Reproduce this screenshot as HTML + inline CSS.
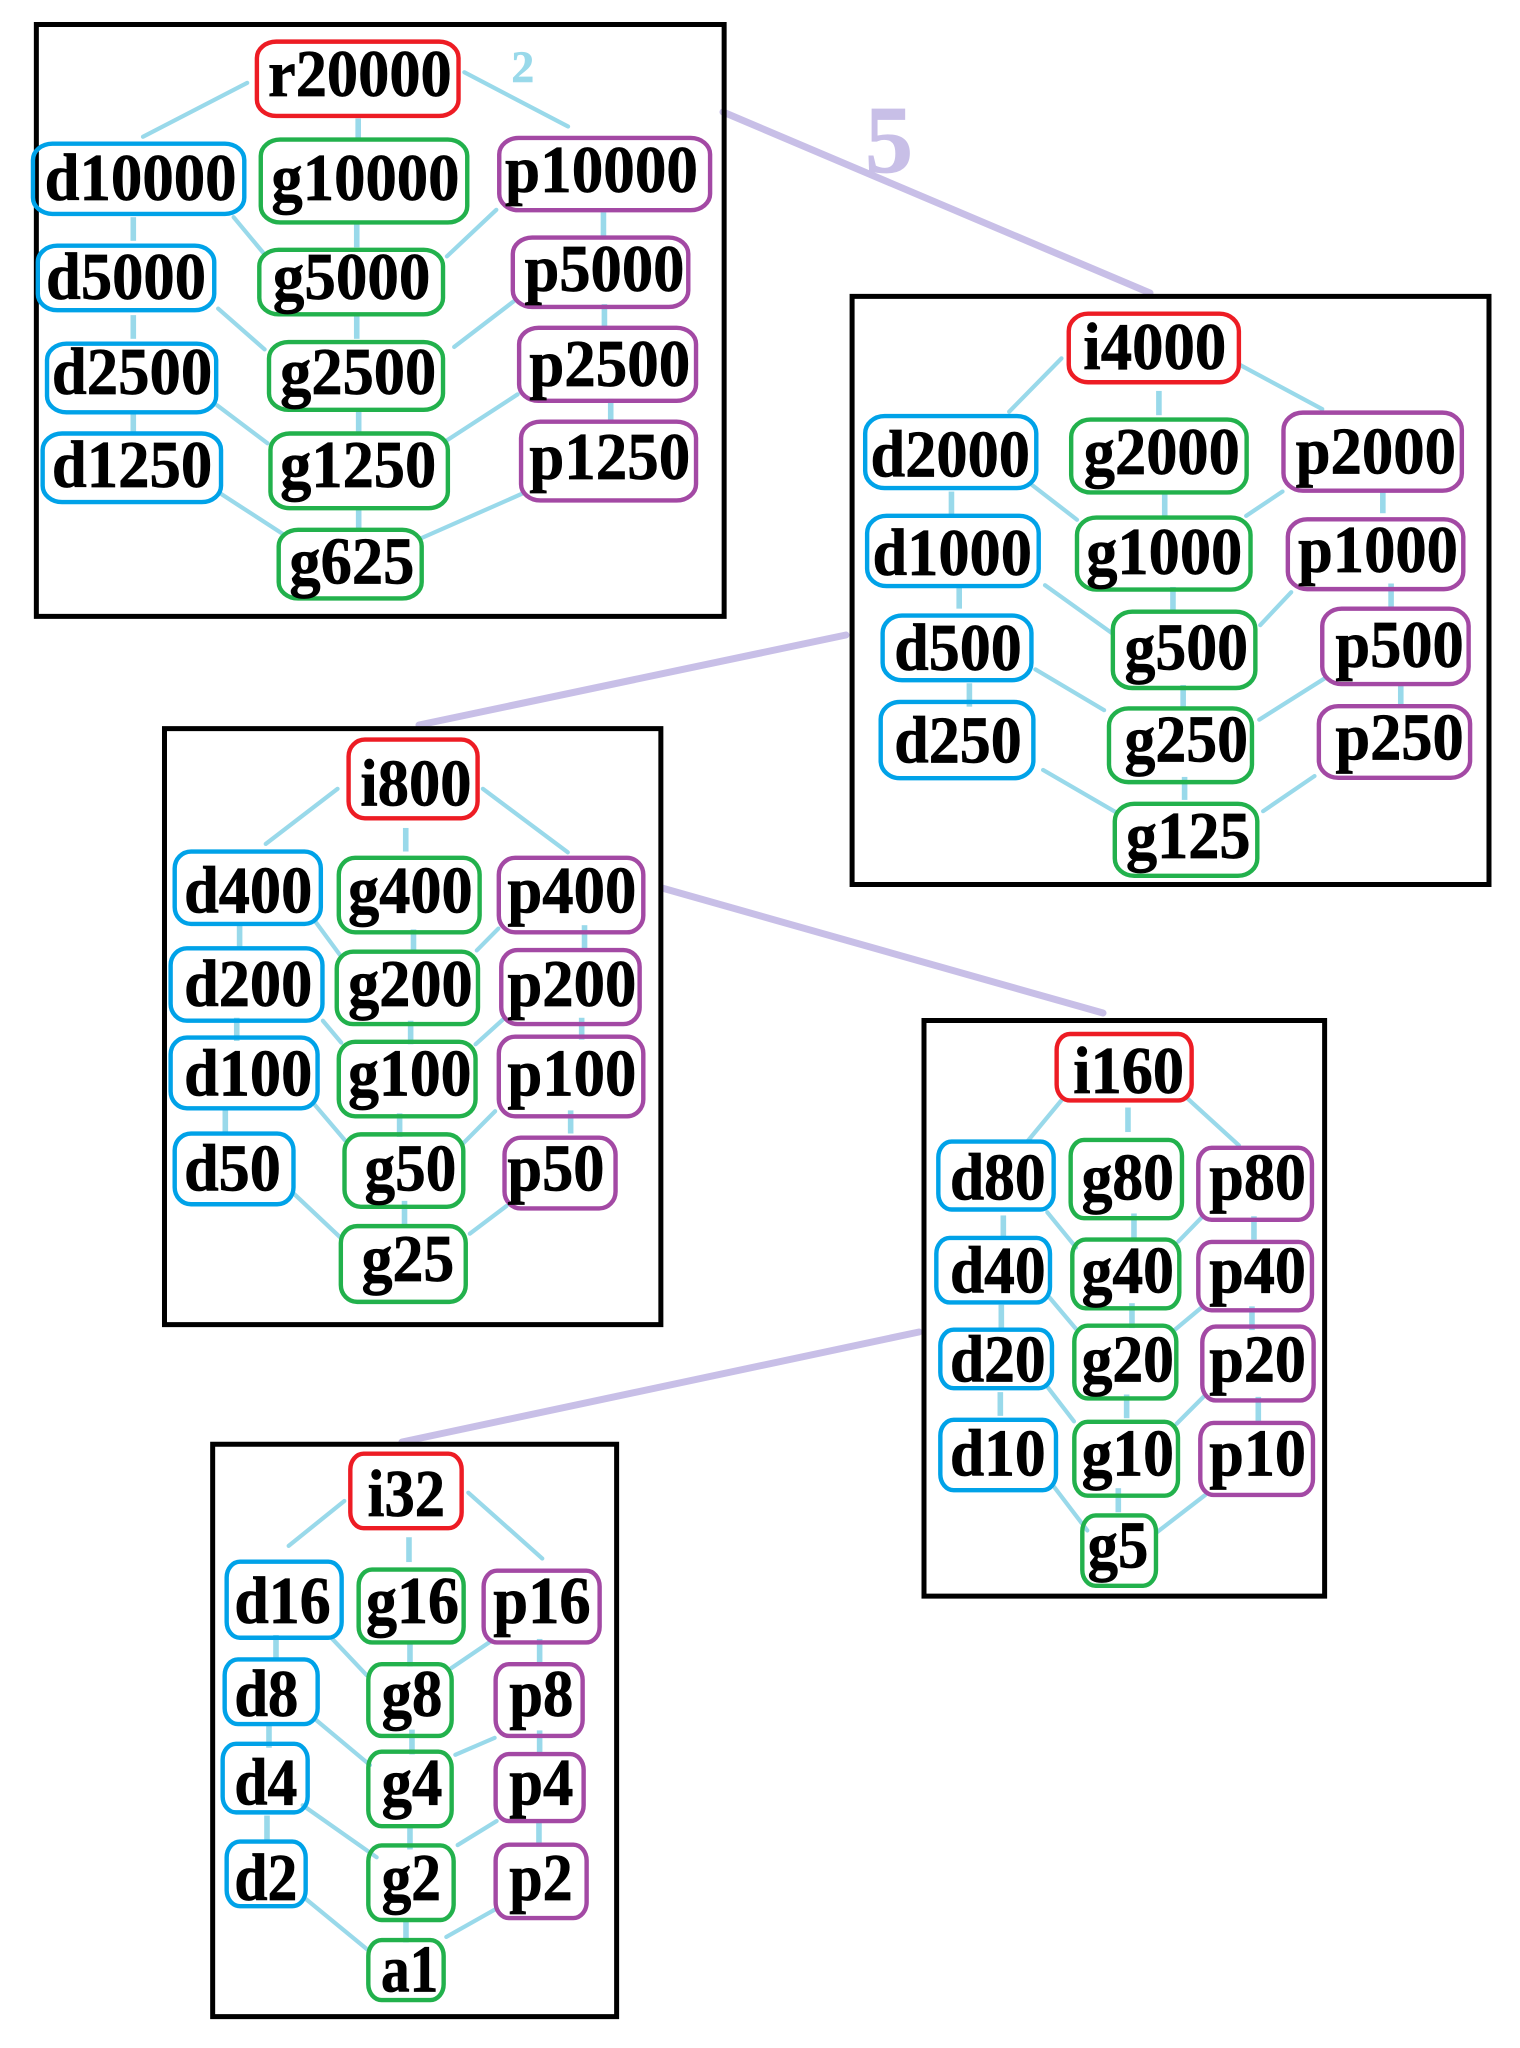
<!DOCTYPE html>
<html><head><meta charset="utf-8"><style>
html,body{margin:0;padding:0;background:#fff}
svg{display:block}
rect{fill:none;vector-effect:non-scaling-stroke}
line{vector-effect:non-scaling-stroke;stroke:#99d9ea;stroke-width:4.2;stroke-linecap:round}
line.v{stroke-width:5.6;stroke-linecap:butt}
.box{stroke:#000;stroke-width:5}
.r{stroke:#ed1c24;stroke-width:4.4}.b{stroke:#00a2e8;stroke-width:4.4}.g{stroke:#22b14c;stroke-width:4.4}.p{stroke:#a349a4;stroke-width:4.4}
text{font-family:"Liberation Serif",serif;font-weight:bold;fill:#000;stroke:#000;stroke-width:.7px;vector-effect:non-scaling-stroke}
line.m{stroke:#c8bfe7;stroke-width:7}
</style></head><body>
<svg width="1520" height="2048" viewBox="0 0 1520 2048" xmlns="http://www.w3.org/2000/svg">
<rect x="0" y="0" width="1520" height="2048" style="fill:#fff"/>
<line class="m" x1="723" y1="112" x2="1150" y2="293"/>
<line class="m" x1="846" y1="635" x2="419" y2="725"/>
<line class="m" x1="662" y1="888" x2="1103" y2="1013"/>
<line class="m" x1="919" y1="1332" x2="402" y2="1442"/>
<text x="865" y="172" font-size="96" textLength="48" lengthAdjust="spacingAndGlyphs" style="fill:#c8bfe7;stroke:#c8bfe7">5</text>

<!-- Panel 1 -->
<g transform="translate(0,0) scale(0.4847,0.4082)" font-size="163">
<rect class="box" x="75" y="60" width="1419" height="1450"/>
<text x="1055" y="200" font-size="108" textLength="47" lengthAdjust="spacingAndGlyphs" style="fill:#99d9ea;stroke:#99d9ea">2</text>
<line x1="510" y1="203" x2="295" y2="335"/><line x1="958" y1="177" x2="1172" y2="310"/><line class="v" x1="739" y1="290" x2="739" y2="343"/>
<line class="v" x1="275" y1="532" x2="275" y2="590"/><line x1="482" y1="532" x2="545" y2="622"/><line class="v" x1="736" y1="548" x2="736" y2="606"/><line x1="1024" y1="514" x2="922" y2="628"/><line class="v" x1="1245" y1="520" x2="1245" y2="578"/>
<line class="v" x1="275" y1="772" x2="275" y2="830"/><line x1="450" y1="756" x2="546" y2="856"/><line class="v" x1="736" y1="772" x2="736" y2="830"/><line x1="1060" y1="738" x2="937" y2="850"/><line class="v" x1="1247" y1="745" x2="1247" y2="803"/>
<line class="v" x1="275" y1="1005" x2="275" y2="1062"/><line x1="448" y1="993" x2="552" y2="1086"/><line class="v" x1="740" y1="1002" x2="740" y2="1058"/><line x1="1068" y1="966" x2="918" y2="1082"/><line class="v" x1="1260" y1="977" x2="1260" y2="1033"/>
<line x1="456" y1="1210" x2="586" y2="1310"/><line class="v" x1="740" y1="1242" x2="740" y2="1298"/><line x1="1080" y1="1208" x2="870" y2="1318"/>
<rect class="r" x="530" y="102" width="416" height="182" rx="40" ry="40"/><text x="553" y="235" textLength="379" lengthAdjust="spacingAndGlyphs">r20000</text>
<rect class="b" x="68" y="352" width="436" height="172" rx="40" ry="40"/><text x="92" y="490" textLength="396" lengthAdjust="spacingAndGlyphs">d10000</text>
<rect class="g" x="538" y="342" width="426" height="203" rx="40" ry="40"/><text x="560" y="490" textLength="388" lengthAdjust="spacingAndGlyphs">g10000</text>
<rect class="p" x="1030" y="338" width="435" height="177" rx="40" ry="40"/><text x="1042" y="470" textLength="398" lengthAdjust="spacingAndGlyphs">p10000</text>
<rect class="b" x="78" y="602" width="364" height="158" rx="40" ry="40"/><text x="95" y="733" textLength="330" lengthAdjust="spacingAndGlyphs">d5000</text>
<rect class="g" x="535" y="612" width="379" height="158" rx="40" ry="40"/><text x="563" y="733" textLength="325" lengthAdjust="spacingAndGlyphs">g5000</text>
<rect class="p" x="1058" y="582" width="362" height="170" rx="40" ry="40"/><text x="1082" y="713" textLength="330" lengthAdjust="spacingAndGlyphs">p5000</text>
<rect class="b" x="97" y="842" width="349" height="168" rx="40" ry="40"/><text x="107" y="965" textLength="331" lengthAdjust="spacingAndGlyphs">d2500</text>
<rect class="g" x="555" y="838" width="359" height="166" rx="40" ry="40"/><text x="578" y="965" textLength="322" lengthAdjust="spacingAndGlyphs">g2500</text>
<rect class="p" x="1071" y="803" width="365" height="179" rx="40" ry="40"/><text x="1092" y="946" textLength="332" lengthAdjust="spacingAndGlyphs">p2500</text>
<rect class="b" x="88" y="1062" width="368" height="168" rx="40" ry="40"/><text x="107" y="1193" textLength="331" lengthAdjust="spacingAndGlyphs">d1250</text>
<rect class="g" x="558" y="1062" width="366" height="183" rx="40" ry="40"/><text x="578" y="1193" textLength="322" lengthAdjust="spacingAndGlyphs">g1250</text>
<rect class="p" x="1075" y="1033" width="361" height="193" rx="40" ry="40"/><text x="1092" y="1174" textLength="332" lengthAdjust="spacingAndGlyphs">p1250</text>
<rect class="g" x="575" y="1298" width="295" height="168" rx="40" ry="40"/><text x="597" y="1430" textLength="258" lengthAdjust="spacingAndGlyphs">g625</text>
</g>

<!-- Panel 2 -->
<g transform="translate(760,240) scale(0.4847,0.4337)" font-size="154">
<rect class="box" x="190" y="130" width="1314" height="1356"/>
<line x1="622" y1="273" x2="514" y2="396"/><line x1="990" y1="288" x2="1160" y2="390"/><line class="v" x1="823" y1="348" x2="823" y2="404"/>
<line class="v" x1="395" y1="580" x2="395" y2="633"/><line x1="558" y1="562" x2="654" y2="645"/><line class="v" x1="835" y1="582" x2="835" y2="638"/><line x1="1078" y1="580" x2="1003" y2="636"/><line class="v" x1="1285" y1="575" x2="1285" y2="630"/>
<line class="v" x1="411" y1="798" x2="411" y2="850"/><line x1="588" y1="796" x2="728" y2="908"/><line class="v" x1="852" y1="800" x2="852" y2="856"/><line x1="1096" y1="812" x2="1032" y2="888"/><line class="v" x1="1302" y1="792" x2="1302" y2="848"/>
<line class="v" x1="432" y1="1022" x2="432" y2="1076"/><line x1="568" y1="990" x2="710" y2="1084"/><line class="v" x1="873" y1="1026" x2="873" y2="1082"/><line x1="1166" y1="1010" x2="1030" y2="1106"/><line class="v" x1="1322" y1="1020" x2="1322" y2="1073"/>
<line x1="584" y1="1222" x2="735" y2="1320"/><line class="v" x1="876" y1="1238" x2="876" y2="1291"/><line x1="1144" y1="1236" x2="1038" y2="1317"/>
<rect class="r" x="637" y="170" width="351" height="158" rx="40" ry="40"/><text x="667" y="298" textLength="295" lengthAdjust="spacingAndGlyphs">i4000</text>
<rect class="b" x="217" y="406" width="353" height="166" rx="40" ry="40"/><text x="228" y="545" textLength="329" lengthAdjust="spacingAndGlyphs">d2000</text>
<rect class="g" x="642" y="414" width="362" height="168" rx="40" ry="40"/><text x="668" y="540" textLength="322" lengthAdjust="spacingAndGlyphs">g2000</text>
<rect class="p" x="1080" y="398" width="368" height="180" rx="40" ry="40"/><text x="1105" y="538" textLength="331" lengthAdjust="spacingAndGlyphs">p2000</text>
<rect class="b" x="221" y="636" width="354" height="162" rx="40" ry="40"/><text x="232" y="772" textLength="329" lengthAdjust="spacingAndGlyphs">d1000</text>
<rect class="g" x="654" y="640" width="358" height="166" rx="40" ry="40"/><text x="673" y="770" textLength="322" lengthAdjust="spacingAndGlyphs">g1000</text>
<rect class="p" x="1089" y="644" width="362" height="161" rx="40" ry="40"/><text x="1110" y="765" textLength="330" lengthAdjust="spacingAndGlyphs">p1000</text>
<rect class="b" x="253" y="866" width="307" height="149" rx="40" ry="40"/><text x="277" y="992" textLength="263" lengthAdjust="spacingAndGlyphs">d500</text>
<rect class="g" x="728" y="857" width="294" height="176" rx="40" ry="40"/><text x="752" y="990" textLength="255" lengthAdjust="spacingAndGlyphs">g500</text>
<rect class="p" x="1160" y="850" width="302" height="174" rx="40" ry="40"/><text x="1187" y="985" textLength="265" lengthAdjust="spacingAndGlyphs">p500</text>
<rect class="b" x="249" y="1065" width="315" height="176" rx="40" ry="40"/><text x="277" y="1205" textLength="263" lengthAdjust="spacingAndGlyphs">d250</text>
<rect class="g" x="720" y="1080" width="295" height="170" rx="40" ry="40"/><text x="752" y="1203" textLength="255" lengthAdjust="spacingAndGlyphs">g250</text>
<rect class="p" x="1153" y="1075" width="312" height="165" rx="40" ry="40"/><text x="1187" y="1198" textLength="265" lengthAdjust="spacingAndGlyphs">p250</text>
<rect class="g" x="732" y="1300" width="294" height="166" rx="40" ry="40"/><text x="755" y="1425" textLength="257" lengthAdjust="spacingAndGlyphs">g125</text>
</g>

<!-- Panel 3 -->
<g transform="translate(140,700) scale(0.4082,0.4209)" font-size="158">
<rect class="box" x="60" y="68" width="1216" height="1416"/>
<line x1="484" y1="211" x2="308" y2="342"/><line x1="840" y1="211" x2="1048" y2="362"/><line class="v" x1="651" y1="304" x2="651" y2="360"/>
<line class="v" x1="244" y1="536" x2="244" y2="592"/><line x1="427" y1="523" x2="490" y2="606"/><line class="v" x1="670" y1="545" x2="670" y2="598"/><line x1="878" y1="543" x2="825" y2="595"/><line class="v" x1="1089" y1="535" x2="1089" y2="590"/>
<line class="v" x1="237" y1="755" x2="237" y2="810"/><line x1="448" y1="762" x2="493" y2="814"/><line class="v" x1="663" y1="762" x2="663" y2="818"/><line x1="888" y1="760" x2="822" y2="818"/><line class="v" x1="1082" y1="755" x2="1082" y2="807"/>
<line class="v" x1="209" y1="972" x2="209" y2="1030"/><line x1="424" y1="957" x2="502" y2="1046"/><line class="v" x1="636" y1="982" x2="636" y2="1038"/><line x1="870" y1="977" x2="790" y2="1055"/><line class="v" x1="1055" y1="975" x2="1055" y2="1030"/>
<line x1="376" y1="1172" x2="492" y2="1278"/><line class="v" x1="648" y1="1190" x2="648" y2="1246"/><line x1="898" y1="1202" x2="808" y2="1268"/>
<rect class="r" x="511" y="94" width="316" height="187" rx="40" ry="40"/><text x="540" y="251" textLength="272" lengthAdjust="spacingAndGlyphs">i800</text>
<rect class="b" x="85" y="360" width="358" height="172" rx="40" ry="40"/><text x="108" y="505" textLength="314" lengthAdjust="spacingAndGlyphs">d400</text>
<rect class="g" x="487" y="375" width="345" height="177" rx="40" ry="40"/><text x="510" y="505" textLength="305" lengthAdjust="spacingAndGlyphs">g400</text>
<rect class="p" x="879" y="375" width="354" height="177" rx="40" ry="40"/><text x="900" y="505" textLength="316" lengthAdjust="spacingAndGlyphs">p400</text>
<rect class="b" x="75" y="590" width="372" height="172" rx="40" ry="40"/><text x="108" y="727" textLength="314" lengthAdjust="spacingAndGlyphs">d200</text>
<rect class="g" x="482" y="598" width="346" height="172" rx="40" ry="40"/><text x="510" y="727" textLength="305" lengthAdjust="spacingAndGlyphs">g200</text>
<rect class="p" x="885" y="594" width="339" height="176" rx="40" ry="40"/><text x="900" y="727" textLength="316" lengthAdjust="spacingAndGlyphs">p200</text>
<rect class="b" x="75" y="802" width="360" height="168" rx="40" ry="40"/><text x="108" y="940" textLength="314" lengthAdjust="spacingAndGlyphs">d100</text>
<rect class="g" x="487" y="812" width="335" height="177" rx="40" ry="40"/><text x="510" y="940" textLength="302" lengthAdjust="spacingAndGlyphs">g100</text>
<rect class="p" x="879" y="800" width="354" height="189" rx="40" ry="40"/><text x="900" y="940" textLength="316" lengthAdjust="spacingAndGlyphs">p100</text>
<rect class="b" x="85" y="1030" width="291" height="168" rx="40" ry="40"/><text x="108" y="1165" textLength="237" lengthAdjust="spacingAndGlyphs">d50</text>
<rect class="g" x="501" y="1032" width="291" height="172" rx="40" ry="40"/><text x="550" y="1165" textLength="225" lengthAdjust="spacingAndGlyphs">g50</text>
<rect class="p" x="893" y="1040" width="272" height="168" rx="40" ry="40"/><text x="900" y="1165" textLength="238" lengthAdjust="spacingAndGlyphs">p50</text>
<rect class="g" x="492" y="1250" width="306" height="180" rx="40" ry="40"/><text x="543" y="1380" textLength="227" lengthAdjust="spacingAndGlyphs">g25</text>
</g>

<!-- Panel 4 -->
<g transform="translate(900,1000) scale(0.3333,0.3953)" font-size="168">
<rect class="box" x="72" y="52" width="1202" height="1456"/>
<line x1="486" y1="252" x2="382" y2="358"/><line x1="860" y1="247" x2="1017" y2="368"/><line class="v" x1="684" y1="272" x2="684" y2="334"/>
<line class="v" x1="310" y1="545" x2="310" y2="604"/><line x1="442" y1="537" x2="528" y2="626"/><line class="v" x1="702" y1="540" x2="702" y2="604"/><line x1="904" y1="551" x2="835" y2="611"/><line class="v" x1="1062" y1="547" x2="1062" y2="606"/>
<line class="v" x1="304" y1="771" x2="304" y2="831"/><line x1="446" y1="750" x2="528" y2="832"/><line class="v" x1="696" y1="767" x2="696" y2="830"/><line x1="906" y1="777" x2="822" y2="836"/><line class="v" x1="1056" y1="775" x2="1056" y2="835"/>
<line class="v" x1="301" y1="992" x2="301" y2="1052"/><line x1="438" y1="974" x2="522" y2="1066"/><line class="v" x1="680" y1="998" x2="680" y2="1058"/><line x1="915" y1="1000" x2="830" y2="1072"/><line class="v" x1="1075" y1="1004" x2="1075" y2="1066"/>
<line x1="458" y1="1227" x2="562" y2="1342"/><line class="v" x1="655" y1="1235" x2="655" y2="1296"/><line x1="916" y1="1252" x2="770" y2="1347"/>
<rect class="r" x="470" y="86" width="405" height="168" rx="40" ry="40"/><text x="520" y="235" textLength="332" lengthAdjust="spacingAndGlyphs">i160</text>
<rect class="b" x="115" y="358" width="346" height="172" rx="40" ry="40"/><text x="150" y="505" textLength="287" lengthAdjust="spacingAndGlyphs">d80</text>
<rect class="g" x="512" y="354" width="334" height="198" rx="40" ry="40"/><text x="545" y="505" textLength="277" lengthAdjust="spacingAndGlyphs">g80</text>
<rect class="p" x="895" y="374" width="341" height="182" rx="40" ry="40"/><text x="928" y="505" textLength="290" lengthAdjust="spacingAndGlyphs">p80</text>
<rect class="b" x="109" y="602" width="341" height="163" rx="40" ry="40"/><text x="150" y="740" textLength="287" lengthAdjust="spacingAndGlyphs">d40</text>
<rect class="g" x="517" y="606" width="321" height="174" rx="40" ry="40"/><text x="545" y="740" textLength="277" lengthAdjust="spacingAndGlyphs">g40</text>
<rect class="p" x="895" y="612" width="341" height="173" rx="40" ry="40"/><text x="928" y="740" textLength="290" lengthAdjust="spacingAndGlyphs">p40</text>
<rect class="b" x="121" y="834" width="335" height="148" rx="40" ry="40"/><text x="150" y="965" textLength="287" lengthAdjust="spacingAndGlyphs">d20</text>
<rect class="g" x="523" y="824" width="306" height="184" rx="40" ry="40"/><text x="545" y="965" textLength="277" lengthAdjust="spacingAndGlyphs">g20</text>
<rect class="p" x="907" y="826" width="334" height="187" rx="40" ry="40"/><text x="928" y="965" textLength="290" lengthAdjust="spacingAndGlyphs">p20</text>
<rect class="b" x="121" y="1062" width="347" height="178" rx="40" ry="40"/><text x="150" y="1203" textLength="287" lengthAdjust="spacingAndGlyphs">d10</text>
<rect class="g" x="523" y="1067" width="311" height="187" rx="40" ry="40"/><text x="545" y="1203" textLength="277" lengthAdjust="spacingAndGlyphs">g10</text>
<rect class="p" x="901" y="1070" width="338" height="182" rx="40" ry="40"/><text x="928" y="1203" textLength="290" lengthAdjust="spacingAndGlyphs">p10</text>
<rect class="g" x="547" y="1304" width="221" height="178" rx="40" ry="40"/><text x="563" y="1435" textLength="182" lengthAdjust="spacingAndGlyphs">g5</text>
</g>

<!-- Panel 5 -->
<g transform="translate(200,1430) scale(0.3333,0.3942)" font-size="168">
<rect class="box" x="38" y="36" width="1212" height="1452"/>
<line x1="433" y1="180" x2="266" y2="294"/><line x1="805" y1="159" x2="1027" y2="326"/><line class="v" x1="627" y1="272" x2="627" y2="335"/>
<line class="v" x1="228" y1="520" x2="228" y2="582"/><line x1="395" y1="528" x2="500" y2="622"/><line class="v" x1="630" y1="536" x2="630" y2="600"/><line x1="876" y1="534" x2="754" y2="604"/><line class="v" x1="1019" y1="530" x2="1019" y2="595"/>
<line class="v" x1="207" y1="742" x2="207" y2="806"/><line x1="346" y1="734" x2="510" y2="850"/><line class="v" x1="636" y1="760" x2="636" y2="823"/><line x1="884" y1="781" x2="766" y2="824"/><line class="v" x1="1019" y1="762" x2="1019" y2="826"/>
<line class="v" x1="201" y1="978" x2="201" y2="1042"/><line x1="308" y1="952" x2="530" y2="1084"/><line class="v" x1="630" y1="1000" x2="630" y2="1064"/><line x1="890" y1="992" x2="773" y2="1053"/><line class="v" x1="1017" y1="990" x2="1017" y2="1054"/>
<line x1="318" y1="1190" x2="502" y2="1318"/><line class="v" x1="618" y1="1238" x2="618" y2="1300"/><line x1="886" y1="1216" x2="739" y2="1286"/>
<rect class="r" x="451" y="60" width="334" height="189" rx="40" ry="40"/><text x="503" y="218" textLength="232" lengthAdjust="spacingAndGlyphs">i32</text>
<rect class="b" x="80" y="334" width="345" height="193" rx="40" ry="40"/><text x="103" y="490" textLength="289" lengthAdjust="spacingAndGlyphs">d16</text>
<rect class="g" x="476" y="354" width="315" height="185" rx="40" ry="40"/><text x="498" y="490" textLength="279" lengthAdjust="spacingAndGlyphs">g16</text>
<rect class="p" x="851" y="357" width="348" height="182" rx="40" ry="40"/><text x="880" y="490" textLength="292" lengthAdjust="spacingAndGlyphs">p16</text>
<rect class="b" x="74" y="582" width="279" height="164" rx="40" ry="40"/><text x="103" y="725" textLength="192" lengthAdjust="spacingAndGlyphs">d8</text>
<rect class="g" x="505" y="594" width="250" height="182" rx="40" ry="40"/><text x="545" y="725" textLength="182" lengthAdjust="spacingAndGlyphs">g8</text>
<rect class="p" x="887" y="594" width="261" height="182" rx="40" ry="40"/><text x="928" y="725" textLength="192" lengthAdjust="spacingAndGlyphs">p8</text>
<rect class="b" x="68" y="796" width="255" height="174" rx="40" ry="40"/><text x="103" y="950" textLength="189" lengthAdjust="spacingAndGlyphs">d4</text>
<rect class="g" x="505" y="816" width="250" height="189" rx="40" ry="40"/><text x="545" y="950" textLength="182" lengthAdjust="spacingAndGlyphs">g4</text>
<rect class="p" x="887" y="822" width="264" height="170" rx="40" ry="40"/><text x="928" y="950" textLength="192" lengthAdjust="spacingAndGlyphs">p4</text>
<rect class="b" x="80" y="1044" width="237" height="164" rx="40" ry="40"/><text x="103" y="1192" textLength="189" lengthAdjust="spacingAndGlyphs">d2</text>
<rect class="g" x="505" y="1054" width="256" height="189" rx="40" ry="40"/><text x="545" y="1192" textLength="178" lengthAdjust="spacingAndGlyphs">g2</text>
<rect class="p" x="887" y="1052" width="273" height="186" rx="40" ry="40"/><text x="928" y="1192" textLength="190" lengthAdjust="spacingAndGlyphs">p2</text>
<rect class="g" x="505" y="1294" width="226" height="152" rx="40" ry="40"/><text x="543" y="1424" textLength="172" lengthAdjust="spacingAndGlyphs">a1</text>
</g>
</svg>
</body></html>
